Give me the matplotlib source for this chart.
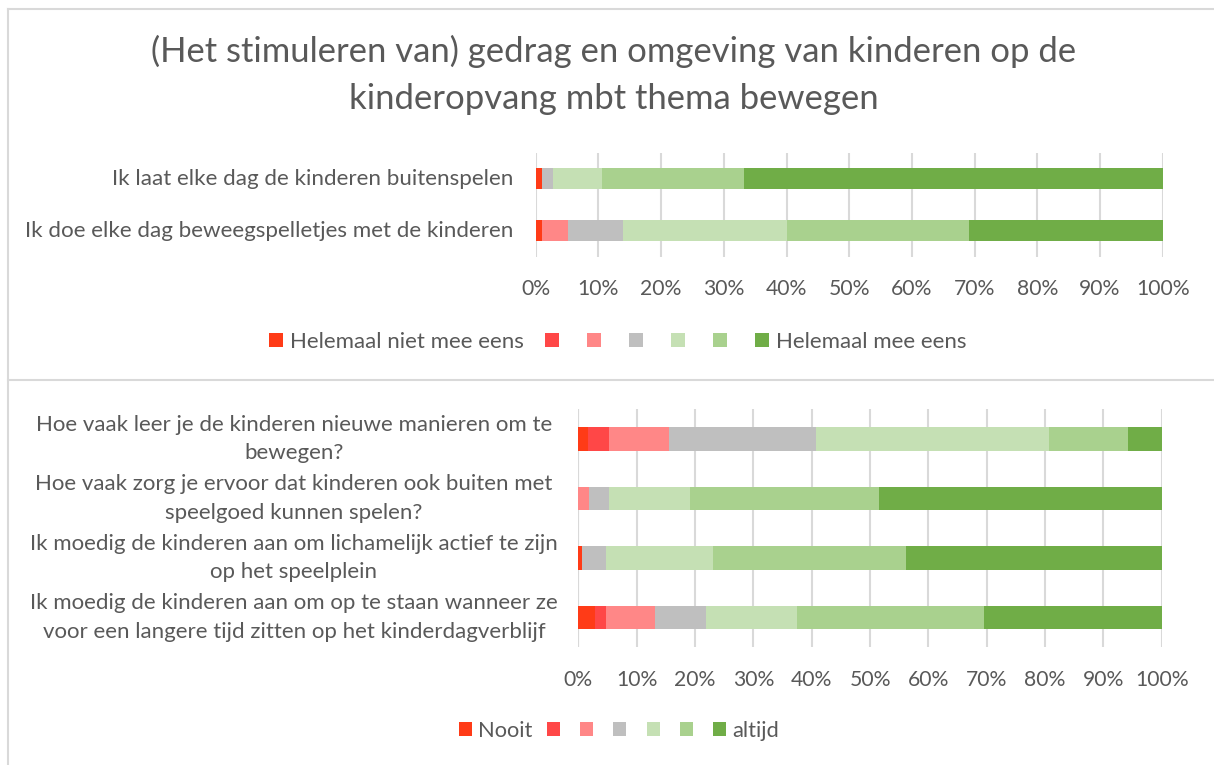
import matplotlib
matplotlib.use("Agg")
import matplotlib.pyplot as plt
import numpy as np
from matplotlib.patches import Patch
from matplotlib.lines import Line2D
from matplotlib.transforms import blended_transform_factory

plt.rcParams['font.family'] = ['Lato', 'DejaVu Sans']

TEXT = '#595959'
GRID = '#D9D9D9'
colors = ['#FF3B17', '#FF4747', '#FF8787', '#BFBFBF', '#C5E0B4', '#A9D18E', '#70AD47']

title = "(Het stimuleren van) gedrag en omgeving van kinderen op de\nkinderopvang mbt thema bewegen"

# Top chart data (percentages per answer category, 7 levels)
top_labels = ["Ik laat elke dag de kinderen buitenspelen",
              "Ik doe elke dag beweegspelletjes met de kinderen"]
top_lvl1 = [1.0, 1.0]
top_lvl2 = [0.0, 0.0]
top_lvl3 = [0.0, 4.1]
top_lvl4 = [1.8, 8.9]
top_lvl5 = [7.8, 26.0]
top_lvl6 = [22.6, 29.1]
top_lvl7 = [66.8, 30.9]
top_legend = ["Helemaal niet mee eens", "", "", "", "", "", "Helemaal mee eens"]

# Bottom chart data
bot_labels = ["Hoe vaak leer je de kinderen nieuwe manieren om te\nbewegen?",
              "Hoe vaak zorg je ervoor dat kinderen ook buiten met\nspeelgoed kunnen spelen?",
              "Ik moedig de kinderen aan om lichamelijk actief te zijn\nop het speelplein",
              "Ik moedig de kinderen aan om op te staan wanneer ze\nvoor een langere tijd zitten op het kinderdagverblijf"]
bot_lvl1 = [1.7, 0.0, 0.6, 2.9]
bot_lvl2 = [3.5, 0.0, 0.0, 1.9]
bot_lvl3 = [10.3, 1.8, 0.0, 8.3]
bot_lvl4 = [25.3, 3.4, 4.1, 8.8]
bot_lvl5 = [39.8, 13.9, 18.4, 15.5]
bot_lvl6 = [13.6, 32.4, 33.1, 32.1]
bot_lvl7 = [5.8, 48.5, 43.8, 30.5]
bot_legend = ["Nooit", "", "", "", "", "", "altijd"]

xticks = list(range(0, 101, 10))
xticklabels = [f"{t}%" for t in xticks]

W, H = 1214, 765
fig = plt.figure(figsize=(W / 100, H / 100), dpi=100)
fig.patch.set_facecolor('white')


def fx(px):
    return px / W


def fy(py):
    return 1 - py / H


# frame lines
fig.add_artist(Line2D([fx(8), fx(8)], [fy(9), 0], color=GRID, lw=1.5, transform=fig.transFigure))
fig.add_artist(Line2D([fx(8), 1], [fy(9), fy(9)], color=GRID, lw=1.5, transform=fig.transFigure))
fig.add_artist(Line2D([fx(8), 1], [fy(380), fy(380)], color=GRID, lw=1.5, transform=fig.transFigure))

fig.text(fx(614), fy(75), title, ha='center', va='center', fontsize=24.9, color=TEXT,
         linespacing=1.55)


def stacked(ax, labels, series):
    n = len(labels)
    y = np.arange(n)
    left = np.zeros(n)
    for vals, c in zip(series, colors):
        vals = np.array(vals, dtype=float)
        ax.barh(y, vals, left=left, height=0.4, color=c, edgecolor='none', zorder=3)
        left += vals
    ax.set_xlim(0, 100)
    ax.set_ylim(n - 0.5, -0.5)
    ax.set_xticks(xticks)
    ax.set_xticklabels(xticklabels)
    ax.set_yticks([])
    for s in ax.spines.values():
        s.set_visible(False)
    ax.grid(axis='x', color=GRID, lw=1.5, zorder=0)
    ax.set_axisbelow(True)
    ax.tick_params(axis='x', length=0, pad=16.3, labelsize=15.2, labelcolor=TEXT)


# Top chart
ax1 = fig.add_axes([fx(535.7), fy(256.8), fx(1162.7) - fx(535.7), (256.8 - 152.8) / H])
stacked(ax1, top_labels, [top_lvl1, top_lvl2, top_lvl3, top_lvl4, top_lvl5, top_lvl6, top_lvl7])
tr1 = blended_transform_factory(fig.transFigure, ax1.transData)
for i, lab in enumerate(top_labels):
    ax1.text(fx(513), i, lab, transform=tr1, ha='right', va='center', fontsize=16.1, color=TEXT)

h1 = [Patch(facecolor=c, edgecolor='none') for c in colors]
fig.legend(h1, top_legend, loc='center', bbox_to_anchor=(fx(618), fy(342)), ncol=7,
           frameon=False, fontsize=16, handlelength=0.63, handleheight=0.63,
           handletextpad=0.3, columnspacing=0.96, labelcolor=TEXT, borderaxespad=0)

# Bottom chart
ax2 = fig.add_axes([fx(578.3), fy(647.2), fx(1161.8) - fx(578.3), (647.2 - 409.2) / H])
stacked(ax2, bot_labels, [bot_lvl1, bot_lvl2, bot_lvl3, bot_lvl4, bot_lvl5, bot_lvl6, bot_lvl7])
ax2.axvline(0, color=GRID, lw=1.5, zorder=1)
tr2 = blended_transform_factory(fig.transFigure, ax2.transData)
for i, lab in enumerate(bot_labels):
    ax2.text(fx(294), i, lab, transform=tr2, ha='center', va='center', fontsize=16,
             color=TEXT, linespacing=1.52, multialignment='center')

h2 = [Patch(facecolor=c, edgecolor='none') for c in colors]
fig.legend(h2, bot_legend, loc='center', bbox_to_anchor=(fx(619), fy(731)), ncol=7,
           frameon=False, fontsize=15.75, handlelength=0.59, handleheight=0.63,
           handletextpad=0.27, columnspacing=0.66, labelcolor=TEXT, borderaxespad=0)

fig.savefig('out.png', dpi=100, facecolor='white')
